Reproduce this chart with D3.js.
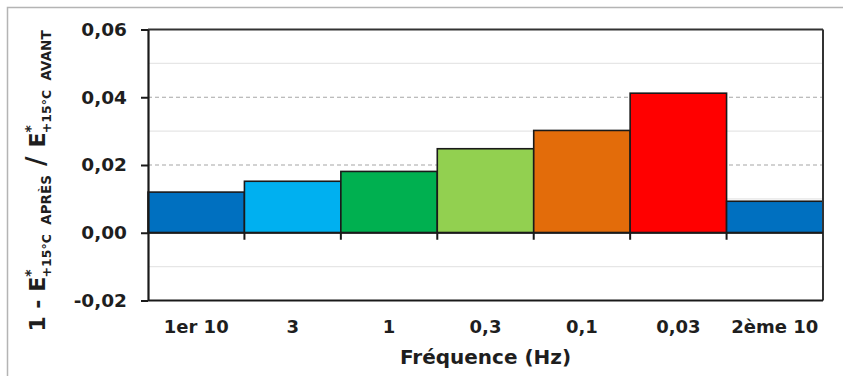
<!DOCTYPE html>
<html><head><meta charset="utf-8">
<script src="https://cdn.jsdelivr.net/npm/d3@7"></script>
<style>html,body{margin:0;padding:0;background:#fff;}svg{display:block;}</style>
</head><body>
<svg id="chart" width="843" height="376"></svg>
<script>
const categories = ["1er 10", "3", "1", "0,3", "0,1", "0,03", "2ème 10"];
const values = [0.0120, 0.0152, 0.0181, 0.0248, 0.0302, 0.0412, 0.0093];
const colors = ["#0070C0", "#00B0F0", "#00B050", "#92D050", "#E36C0A", "#FF0000", "#0070C0"];
const yTicks = [-0.02, 0, 0.02, 0.04, 0.06];
const yTickLabels = ["-0,02", "0,00", "0,02", "0,04", "0,06"];
const dashedGrid = [0.02, 0.04];
const minorGrid = [-0.01, 0.01, 0.03, 0.05];
const xTitle = "Fréquence (Hz)";

const svg = d3.select("#chart");
const font = "'DejaVu Sans', sans-serif";
const m = {left: 148, right: 823, top: 29.5, bottom: 300.5};

// outer frame
svg.append("rect").attr("x", 7.5).attr("y", 7.5).attr("width", 850).attr("height", 380)
  .attr("fill", "none").attr("stroke", "#b4b4b4").attr("stroke-width", 1.5);

const x = d3.scaleBand().domain(categories).range([m.left, m.right]).padding(0);
const y = d3.scaleLinear().domain([-0.02, 0.06]).range([m.bottom, m.top]);

// minor grid
svg.append("g").selectAll("line").data(minorGrid).join("line")
  .attr("x1", m.left).attr("x2", m.right).attr("y1", d => y(d)).attr("y2", d => y(d))
  .attr("stroke", "#e6e6e6").attr("stroke-width", 1.2);
// dashed major grid
svg.append("g").selectAll("line").data(dashedGrid).join("line")
  .attr("x1", m.left).attr("x2", m.right).attr("y1", d => y(d)).attr("y2", d => y(d))
  .attr("stroke", "#a6a6a6").attr("stroke-width", 1.2).attr("stroke-dasharray", "4,3");

// bars
svg.append("g").selectAll("rect").data(values).join("rect")
  .attr("x", (d, i) => x(categories[i]))
  .attr("width", x.bandwidth())
  .attr("y", d => y(Math.max(0, d)))
  .attr("height", d => Math.abs(y(d) - y(0)))
  .attr("fill", (d, i) => colors[i])
  .attr("stroke", "#1a1a1a").attr("stroke-width", 1.6);

// plot border top, right, bottom
svg.append("line").attr("x1", m.left).attr("x2", m.right).attr("y1", m.top).attr("y2", m.top)
  .attr("stroke", "#333").attr("stroke-width", 2);
svg.append("line").attr("x1", m.right).attr("x2", m.right).attr("y1", m.top).attr("y2", m.bottom)
  .attr("stroke", "#333").attr("stroke-width", 2);
svg.append("line").attr("x1", m.left).attr("x2", m.right).attr("y1", m.bottom).attr("y2", m.bottom)
  .attr("stroke", "#1a1a1a").attr("stroke-width", 2);

// y axis
const yAxis = d3.axisLeft(y).tickValues(yTicks).tickSize(7).tickSizeOuter(0)
  .tickFormat((d, i) => yTickLabels[i]).tickPadding(14);
const gy = svg.append("g").attr("transform", `translate(${m.left},0)`).call(yAxis);
gy.select(".domain").attr("stroke", "#1a1a1a").attr("stroke-width", 2.2);
gy.selectAll(".tick line").attr("stroke", "#1a1a1a").attr("stroke-width", 2);
gy.selectAll(".tick text").attr("font-family", font).attr("font-weight", "bold")
  .attr("font-size", 18.5).attr("fill", "#1e1e1e");

// x axis at zero
const boundaries = categories.slice(1).map(c => x(c));
svg.append("line").attr("x1", m.left).attr("x2", m.right).attr("y1", y(0)).attr("y2", y(0))
  .attr("stroke", "#1a1a1a").attr("stroke-width", 2);
svg.append("g").selectAll("line").data(boundaries).join("line")
  .attr("x1", d => d).attr("x2", d => d).attr("y1", y(0)).attr("y2", y(0) + 7)
  .attr("stroke", "#1a1a1a").attr("stroke-width", 2);

// x labels
svg.append("g").selectAll("text").data(categories).join("text")
  .attr("x", d => x(d) + x.bandwidth() / 2).attr("y", 333)
  .attr("text-anchor", "middle").attr("font-family", font).attr("font-weight", "bold")
  .attr("font-size", 18).attr("fill", "#1e1e1e").text(d => d);

// x title
svg.append("text").attr("x", (m.left + m.right) / 2).attr("y", 364)
  .attr("text-anchor", "middle").attr("font-family", font).attr("font-weight", "bold")
  .attr("font-size", 20).attr("fill", "#1e1e1e").text(xTitle);

// y title
const yt = svg.append("text").attr("transform", "translate(45,181) rotate(-90)")
  .attr("text-anchor", "middle").attr("font-family", font).attr("font-weight", "bold")
  .attr("font-size", 22).attr("fill", "#1e1e1e");
function ePart(sub, first) {
  yt.append("tspan").text(first ? "1 - E" : "E");
  yt.append("tspan").attr("font-size", 14).attr("dy", -10).text("*");
  yt.append("tspan").attr("font-size", 12.5).attr("dx", -8).attr("dy", 16).text("+15°C");
  yt.append("tspan").attr("font-size", 13.5).text("\u00a0\u00a0" + sub);
}
ePart("APRÈS", true);
yt.append("tspan").attr("dy", -6).attr("font-size", 26).text("\u00a0/\u00a0");
ePart("AVANT", false);
</script>
</body></html>
